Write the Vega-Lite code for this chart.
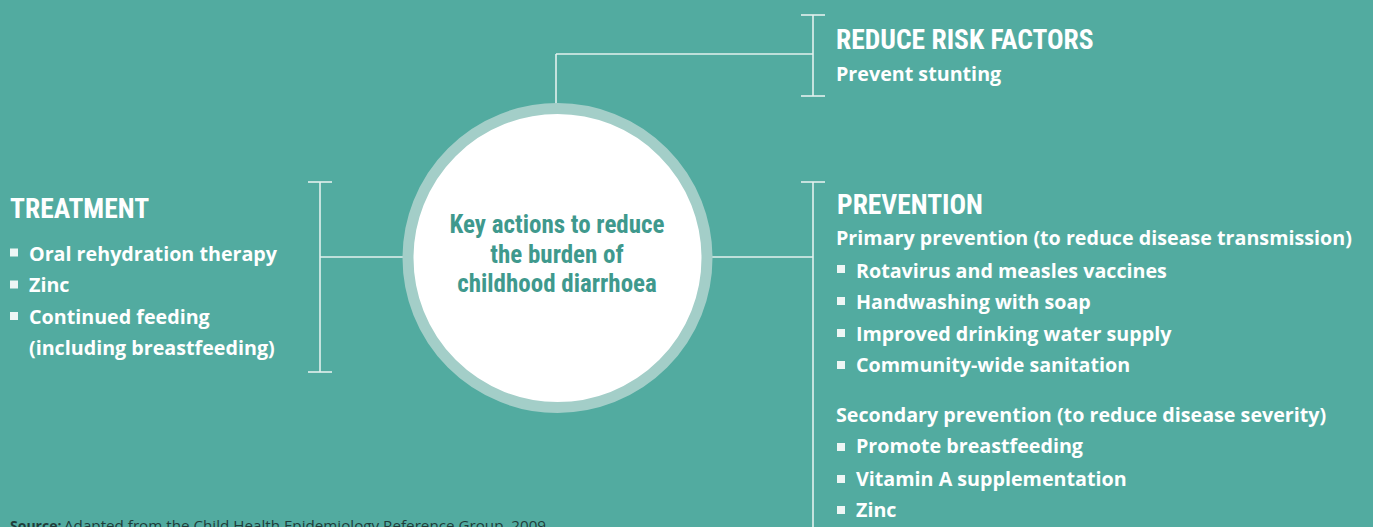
{
  "$schema": "https://vega.github.io/schema/vega-lite/v6.json",
  "width": 1373,
  "height": 527,
  "padding": 0,
  "autosize": {"type": "none"},
  "background": "#52aba0",
  "config": {"view": {"stroke": null}},
  "datasets": {
    "segments": [
      {"x": 556, "y": 54, "x2": 556, "y2": 104},
      {"x": 556, "y": 54, "x2": 813, "y2": 54},
      {"x": 813, "y": 15, "x2": 813, "y2": 96},
      {"x": 801, "y": 15, "x2": 825, "y2": 15},
      {"x": 801, "y": 96, "x2": 825, "y2": 96},
      {"x": 320, "y": 182, "x2": 320, "y2": 372},
      {"x": 308, "y": 182, "x2": 332, "y2": 182},
      {"x": 308, "y": 372, "x2": 332, "y2": 372},
      {"x": 320, "y": 257, "x2": 404, "y2": 257},
      {"x": 813, "y": 182, "x2": 813, "y2": 560},
      {"x": 801, "y": 182, "x2": 825, "y2": 182},
      {"x": 711, "y": 257, "x2": 813, "y2": 257}
    ],
    "hub": [{"x": 557.5, "y": 258}],
    "bullets": [
      {"x": 14, "y": 252.5}, {"x": 14, "y": 284.5}, {"x": 14, "y": 316},
      {"x": 841, "y": 269}, {"x": 841, "y": 301}, {"x": 841, "y": 333}, {"x": 841, "y": 365},
      {"x": 841, "y": 447}, {"x": 841, "y": 479}, {"x": 841, "y": 510}
    ],
    "labels": [
      {"role": "heading", "text": "REDUCE RISK FACTORS", "x": 836, "y": 49},
      {"role": "heading", "text": "TREATMENT", "x": 10, "y": 218},
      {"role": "heading", "text": "PREVENTION", "x": 837, "y": 214},
      {"role": "body", "text": "Prevent stunting", "x": 836, "y": 81},
      {"role": "body", "text": "Oral rehydration therapy", "x": 29, "y": 261},
      {"role": "body", "text": "Zinc", "x": 29, "y": 292},
      {"role": "body", "text": "Continued feeding", "x": 29, "y": 324},
      {"role": "body", "text": "(including breastfeeding)", "x": 29, "y": 355},
      {"role": "body", "text": "Primary prevention (to reduce disease transmission)", "x": 836, "y": 245},
      {"role": "body", "text": "Rotavirus and measles vaccines", "x": 856, "y": 278},
      {"role": "body", "text": "Handwashing with soap", "x": 856, "y": 309},
      {"role": "body", "text": "Improved drinking water supply", "x": 856, "y": 341},
      {"role": "body", "text": "Community-wide sanitation", "x": 856, "y": 372},
      {"role": "body", "text": "Secondary prevention (to reduce disease severity)", "x": 836, "y": 422},
      {"role": "body", "text": "Promote breastfeeding", "x": 856, "y": 453},
      {"role": "body", "text": "Vitamin A supplementation", "x": 856, "y": 486},
      {"role": "body", "text": "Zinc", "x": 856, "y": 517},
      {"role": "center", "text": "Key actions to reduce", "x": 557, "y": 233},
      {"role": "center", "text": "the burden of", "x": 557, "y": 263},
      {"role": "center", "text": "childhood diarrhoea", "x": 557, "y": 292},
      {"role": "sourceBold", "text": "Source:", "x": 10, "y": 531},
      {"role": "source", "text": "Adapted from the Child Health Epidemiology Reference Group, 2009", "x": 64, "y": 531}
    ]
  },
  "encoding": {
    "x": {"field": "x", "type": "quantitative", "axis": null, "scale": {"domain": [0, 1373], "nice": false, "zero": false}},
    "y": {"field": "y", "type": "quantitative", "axis": null, "scale": {"domain": [0, 527], "nice": false, "zero": false, "reverse": true}}
  },
  "layer": [
    {
      "data": {"name": "segments"},
      "mark": {"type": "rule", "color": "#e3f1ee", "strokeWidth": 1.6},
      "encoding": {"x2": {"field": "x2"}, "y2": {"field": "y2"}}
    },
    {
      "data": {"name": "hub"},
      "mark": {"type": "point", "shape": "circle", "filled": false, "fill": "#ffffff", "fillOpacity": 1, "stroke": "#a3cec8", "strokeWidth": 11, "strokeOpacity": 1, "opacity": 1, "size": 89401}
    },
    {
      "data": {"name": "bullets"},
      "mark": {"type": "point", "shape": "square", "filled": true, "color": "#eef6f5", "opacity": 1, "size": 64}
    },
    {
      "data": {"name": "labels"},
      "transform": [{"filter": "datum.role === 'heading'"}],
      "mark": {"type": "text", "align": "left", "baseline": "alphabetic", "font": "Roboto Condensed, Roboto", "fontWeight": "bold", "fontSize": 27.5, "color": "#ffffff"},
      "encoding": {"text": {"field": "text"}}
    },
    {
      "data": {"name": "labels"},
      "transform": [{"filter": "datum.role === 'body'"}],
      "mark": {"type": "text", "align": "left", "baseline": "alphabetic", "font": "Open Sans", "fontWeight": "bold", "fontSize": 19.7, "color": "#ffffff"},
      "encoding": {"text": {"field": "text"}}
    },
    {
      "data": {"name": "labels"},
      "transform": [{"filter": "datum.role === 'center'"}],
      "mark": {"type": "text", "align": "center", "baseline": "alphabetic", "font": "Roboto Condensed, Roboto", "fontWeight": "bold", "fontSize": 25, "color": "#3f998d"},
      "encoding": {"text": {"field": "text"}}
    },
    {
      "data": {"name": "labels"},
      "transform": [{"filter": "datum.role === 'sourceBold'"}],
      "mark": {"type": "text", "align": "left", "baseline": "alphabetic", "font": "Open Sans", "fontWeight": "bold", "fontSize": 14, "color": "#1f3d3a"},
      "encoding": {"text": {"field": "text"}}
    },
    {
      "data": {"name": "labels"},
      "transform": [{"filter": "datum.role === 'source'"}],
      "mark": {"type": "text", "align": "left", "baseline": "alphabetic", "font": "Open Sans", "fontSize": 15.2, "color": "#1f3d3a"},
      "encoding": {"text": {"field": "text"}}
    }
  ]
}
